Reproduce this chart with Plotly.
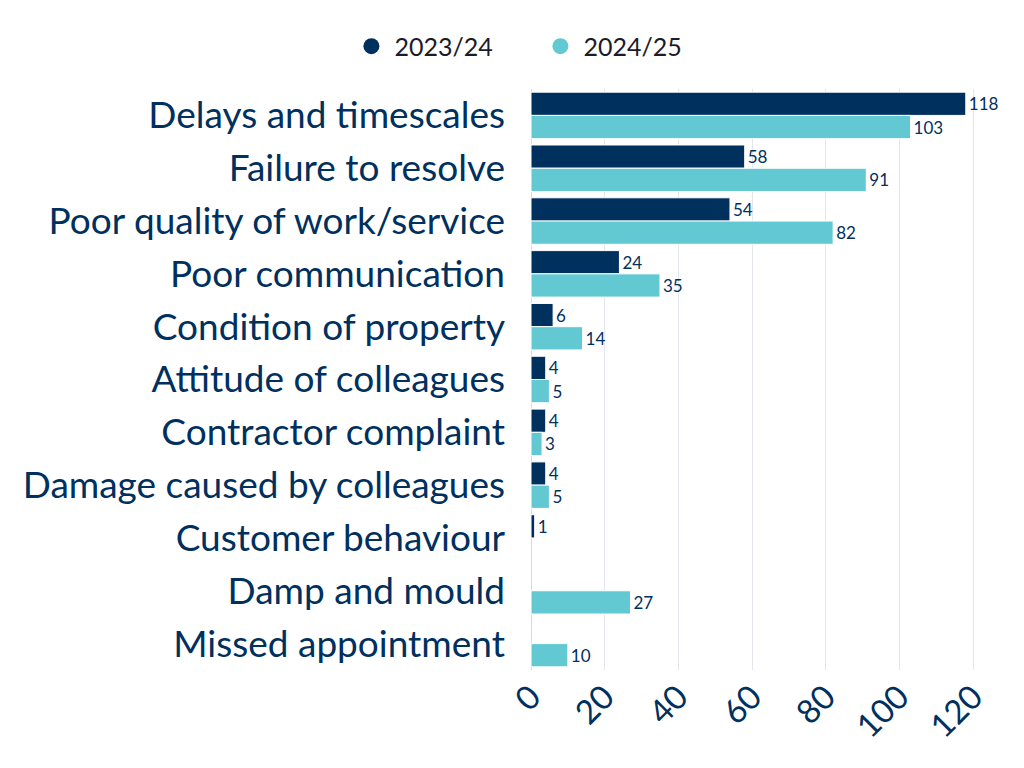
import plotly.graph_objects as go

# complaint categories, top to bottom
categories = [
    "Delays and timescales",
    "Failure to resolve",
    "Poor quality of work/service",
    "Poor communication",
    "Condition of property",
    "Attitude of colleagues",
    "Contractor complaint",
    "Damage caused by colleagues",
    "Customer behaviour",
    "Damp and mould",
    "Missed appointment",
]
y_2324 = [118, 58, 54, 24, 6, 4, 4, 4, 1, None, None]
y_2425 = [103, 91, 82, 35, 14, 5, 3, 5, None, 27, 10]
x_ticks = [0, 20, 40, 60, 80, 100, 120]

navy = "#00305e"
cyan = "#62c9d3"
font_name = "Lato"

fig = go.Figure()
for name, vals, col in [("2023/24", y_2324, navy), ("2024/25", y_2425, cyan)]:
    fig.add_trace(
        go.Bar(
            name=name,
            y=categories,
            x=vals,
            orientation="h",
            marker=dict(color=col, line=dict(width=1, color="white")),
            text=[str(v) if v is not None else "" for v in vals],
            textposition="outside",
            textfont=dict(size=17, color=navy, family=font_name),
            cliponaxis=False,
            showlegend=False,
        )
    )
    # round legend markers
    fig.add_trace(
        go.Scatter(
            name=name,
            x=[None],
            y=[None],
            mode="markers",
            marker=dict(color=col, size=30, symbol="circle"),
        )
    )

# page body has an 8px margin, so margins are shifted to match
fig.update_layout(
    width=1024,
    height=768,
    barmode="group",
    bargap=0.12,
    bargroupgap=0,
    plot_bgcolor="white",
    paper_bgcolor="white",
    font=dict(family=font_name, color=navy),
    margin=dict(l=523, r=57, t=81, b=106, autoexpand=False),
    legend=dict(
        orientation="h",
        x=0.517,
        xanchor="center",
        xref="container",
        y=0.95,
        yanchor="middle",
        yref="container",
        font=dict(size=25, color="#1c1c28"),
        itemsizing="trace",
        itemwidth=36,
        entrywidth=138,
    ),
)
fig.update_xaxes(
    range=[0, 120.5],
    tickvals=x_ticks,
    tickangle=-45,
    tickfont=dict(size=33, color=navy),
    showgrid=True,
    gridcolor="#e3e6ea",
    zeroline=True,
    zerolinecolor="#d7dce2",
    zerolinewidth=1,
    showline=False,
)
fig.update_yaxes(
    autorange="reversed",
    tickfont=dict(size=37, color=navy),
    ticklabelstandoff=25,
    showgrid=False,
)

fig.write_html("out.html")
